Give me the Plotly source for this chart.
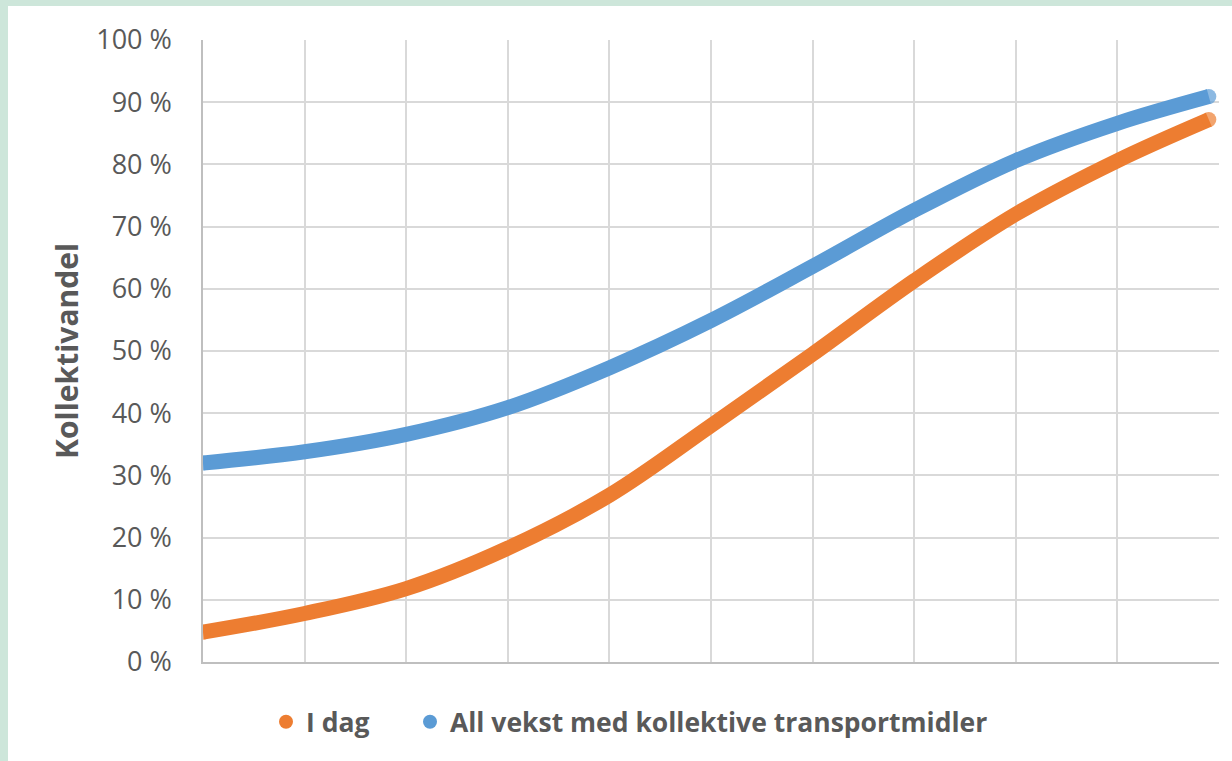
import plotly.graph_objects as go

# Data
x_vals = [0, 10, 20, 30, 40, 50, 60, 70, 80, 90, 99]
i_dag = [4.8, 7.8, 11.8, 18.3, 26.8, 38.0, 49.5, 61.3, 72.0, 80.6, 87.2]
all_vekst = [32.0, 33.8, 36.6, 40.9, 47.3, 54.9, 63.6, 72.6, 80.6, 86.6, 90.9]
series_names = ["I dag", "All vekst med kollektive transportmidler"]
y_title = "Kollektivandel"

ORANGE = "#ED7D31"
BLUE = "#5B9BD5"
TEXT = "#595959"
GREEN = "#CDE6DA"
LW = 15

W, H = 1232, 761
L, R, T, B = 203, 13, 40, 99
pw = W - L - R
ph = H - T - B

def px(x):
    return (x - L) / pw

def py(y):
    return (H - B - y) / ph

fig = go.Figure()
for name, ys, col in [(series_names[1], all_vekst, BLUE), (series_names[0], i_dag, ORANGE)]:
    n = len(ys)
    sizes = [LW if (i == 0 or i == n - 1) else 0 for i in range(n)]
    fig.add_trace(go.Scatter(x=x_vals, y=ys, mode="lines+markers", name=name,
                             line=dict(color=col, width=LW, shape="spline"),
                             marker=dict(color=col, size=sizes, line=dict(width=0)),
                             showlegend=False, hoverinfo="skip"))
# legend entries (circle markers), each in its own legend box
for name, col, lg in [(series_names[0], ORANGE, "legend"), (series_names[1], BLUE, "legend2")]:
    fig.add_trace(go.Scatter(x=[None], y=[None], mode="markers", name=name,
                             marker=dict(color=col, size=14, symbol="circle"),
                             legend=lg))

legend_font = dict(size=26.5, color=TEXT, family="Open Sans", weight="bold")
fig.update_layout(
    width=W, height=H,
    margin=dict(l=L, r=R, t=T, b=B),
    paper_bgcolor="white", plot_bgcolor="white",
    font=dict(family="Open Sans", color=TEXT),
    xaxis=dict(range=[0, 100], dtick=10, tick0=0, showticklabels=False,
               showgrid=True, gridcolor="#D9D9D9", gridwidth=1.5,
               zeroline=False, showline=True, linecolor="#BFBFBF", linewidth=1.5,
               mirror=False, fixedrange=True),
    yaxis=dict(range=[0, 100], dtick=10, tick0=0, ticksuffix=" %",
               tickfont=dict(size=27, color=TEXT, family="Open Sans"),
               ticks="outside", ticklen=24, tickcolor="rgba(0,0,0,0)",
               showgrid=True, gridcolor="#D9D9D9", gridwidth=1.5,
               zeroline=False, showline=True, linecolor="#BFBFBF", linewidth=1.5,
               fixedrange=True),
    legend=dict(orientation="h", x=px(266), xanchor="left",
                y=py(722), yanchor="middle", font=legend_font,
                itemwidth=30, bgcolor="rgba(0,0,0,0)"),
    legend2=dict(orientation="h", x=px(410), xanchor="left",
                 y=py(722), yanchor="middle", font=legend_font,
                 itemwidth=30, bgcolor="rgba(0,0,0,0)"),
    showlegend=True,
)

fig.add_annotation(text="<b>" + y_title + "</b>", textangle=-90,
                   x=px(66), y=py(351), xref="paper", yref="paper",
                   xanchor="center", yanchor="middle", showarrow=False,
                   font=dict(size=30, color=TEXT, family="Open Sans"))

# light green frame (left and top)
fig.add_shape(type="rect", xref="paper", yref="paper",
              x0=px(-2), x1=px(8), y0=py(H + 2), y1=py(0),
              fillcolor=GREEN, line=dict(width=0), layer="above")
fig.add_shape(type="rect", xref="paper", yref="paper",
              x0=px(-2), x1=px(W + 2), y0=py(6), y1=py(-2),
              fillcolor=GREEN, line=dict(width=0), layer="above")

fig.write_html("out.html", config={"displayModeBar": False},
               post_script="document.body.style.margin='0';document.body.style.overflow='hidden';")
